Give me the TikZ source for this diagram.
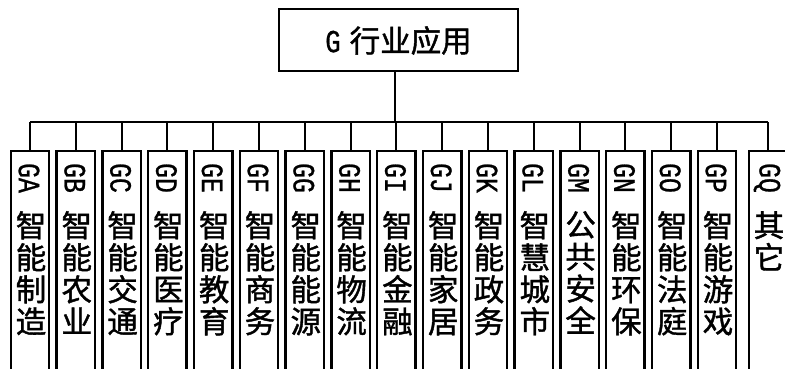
\documentclass[tikz,border=0pt]{standalone}
\usepackage{fontspec}
\newfontfamily\cjkf[FakeBold=1.3]{Noto Sans CJK SC}
\newfontfamily\latm[FakeStretch=0.8,FakeBold=0.8]{Liberation Mono}
\begin{document}
\begin{tikzpicture}[x=1pt,y=-1pt,
  topbox/.style={draw, line width=2pt, minimum width=239pt, minimum height=62pt, inner sep=0pt},
  colbox/.style={draw, line width=2.4pt, minimum width=38.5pt, minimum height=240pt, inner sep=0pt, anchor=north},
  codetxt/.style={rotate=-90, inner sep=0pt, font=\latm\fontsize{31}{31}\selectfont},
  cjktxt/.style={anchor=north, align=center, inner sep=0pt, font=\cjkf\fontsize{30.5}{32}\selectfont},
  link/.style={line width=2pt}]
\useasboundingbox (0,0) rectangle (785,369);
\clip (0,0) rectangle (785,369);
\node[topbox] (g) at (398.5,40.5) {{\latm\fontsize{32}{32}\selectfont G}\hspace{9pt}{\cjkf\fontsize{30.5}{32}\selectfont 行业应用}};
\coordinate (busy) at (0,121.5);
\foreach \code/\lab [count=\i from 0] in {
  GA/{智\\能\\制\\造}, GB/{智\\能\\农\\业}, GC/{智\\能\\交\\通}, GD/{智\\能\\医\\疗},
  GE/{智\\能\\教\\育}, GF/{智\\能\\商\\务}, GG/{智\\能\\能\\源}, GH/{智\\能\\物\\流},
  GI/{智\\能\\金\\融}, GJ/{智\\能\\家\\居}, GK/{智\\能\\政\\务}, GL/{智\\慧\\城\\市},
  GM/{公\\共\\安\\全}, GN/{智\\能\\环\\保}, GO/{智\\能\\法\\庭}, GP/{智\\能\\游\\戏},
  GQ/{其\\它}} {
  \pgfmathsetmacro\cx{\i<16 ? 30+45.8*\i : 768}
  \node[colbox] (b\i) at (\cx,150) {};
  \node[codetxt] (c\i) at (\cx-1,178) {\code};
  \node[cjktxt] (t\i) at (\cx+1,211) {\lab};
  \draw[link] (b\i.north) -- (b\i.north |- busy);
}
\draw[link] ([xshift=-3.5pt]g.south) -- ([xshift=-3.5pt]g.south |- busy);
\draw[link] (b0.north |- busy) -- (b16.north |- busy);
\end{tikzpicture}
\end{document}
